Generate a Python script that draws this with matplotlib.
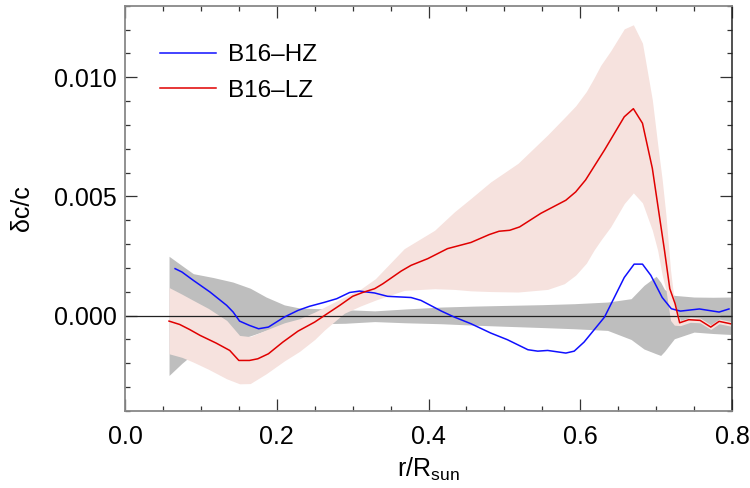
import matplotlib

matplotlib.use('Agg')
import numpy as np
import matplotlib.pyplot as plt

plt.rcParams['font.family'] = ['Liberation Sans', 'DejaVu Sans']
plt.rcParams['mathtext.fontset'] = 'custom'
plt.rcParams['mathtext.rm'] = 'Liberation Sans'

# B16-HZ line
hz_r = [0.066, 0.075, 0.090, 0.112, 0.134, 0.1425, 0.151, 0.164, 0.176, 0.189,
        0.210, 0.228, 0.243, 0.263, 0.279, 0.296, 0.309, 0.329, 0.346, 0.377,
        0.390, 0.417, 0.434, 0.456, 0.482, 0.504, 0.531, 0.544, 0.557, 0.581,
        0.592, 0.605, 0.632, 0.658, 0.671, 0.682, 0.693, 0.708, 0.720, 0.732,
        0.757, 0.783, 0.796]
hz_dc = [0.00197, 0.00183, 0.00148, 0.00099, 0.00043, 0.00015, -0.00023, -0.00041, -0.00055, -0.00048,
         -0.00006, 0.00022, 0.00039, 0.00056, 0.00071, 0.00097, 0.00103, 0.00095, 0.00081, 0.00076,
         0.00064, 0.00019, -0.00006, -0.00034, -0.00073, -0.00101, -0.00143, -0.00149, -0.00146, -0.00157,
         -0.00149, -0.00111, -0.00006, 0.00160, 0.00216, 0.00216, 0.00169, 0.00076, 0.00029, 0.00019,
         0.00028, 0.00015, 0.00028]

# B16-LZ line
lz_r = [0.058, 0.072, 0.085, 0.099, 0.120, 0.138, 0.150, 0.164, 0.175, 0.189,
        0.208, 0.228, 0.250, 0.265, 0.283, 0.300, 0.313, 0.329, 0.340, 0.364,
        0.377, 0.399, 0.425, 0.456, 0.480, 0.493, 0.507, 0.520, 0.548, 0.581,
        0.594, 0.607, 0.632, 0.658, 0.670, 0.682, 0.695, 0.711, 0.718, 0.725,
        0.731, 0.743, 0.758, 0.772, 0.783, 0.798]
lz_dc = [-0.00023, -0.00037, -0.00058, -0.00083, -0.00115, -0.00146, -0.00188, -0.00188, -0.00181, -0.00160,
         -0.00111, -0.00065, -0.00027, 0.00005, 0.00043, 0.00081, 0.00097, 0.00113, 0.00134, 0.00187,
         0.00211, 0.00239, 0.00281, 0.00307, 0.00340, 0.00354, 0.00358, 0.00372, 0.00429, 0.00484,
         0.00519, 0.00569, 0.00695, 0.00834, 0.00868, 0.00807, 0.00618, 0.00274, 0.00113, 0.00050,
         -0.00030, -0.00017, -0.00020, -0.00048, -0.00024, -0.00034]

# LZ error band (pink)
band_r = [0.058, 0.075, 0.090, 0.110, 0.134, 0.151, 0.165, 0.186, 0.210, 0.230,
          0.250, 0.263, 0.289, 0.310, 0.330, 0.368, 0.408, 0.434, 0.456, 0.482,
          0.518, 0.557, 0.579, 0.594, 0.608, 0.618, 0.627, 0.640, 0.658, 0.670,
          0.682, 0.695, 0.702, 0.708, 0.713, 0.719, 0.724, 0.732, 0.745, 0.758,
          0.772, 0.783, 0.798]
band_hi = [0.00118, 0.00090, 0.00064, 0.00030, -0.00020, -0.00083, -0.00088, -0.00060, -0.00030, -0.00013,
           0.00015, 0.00036, 0.00078, 0.00110, 0.00155, 0.00281, 0.00358, 0.00435, 0.00492, 0.00561,
           0.00639, 0.00758, 0.00830, 0.00880, 0.00940, 0.00996, 0.01050, 0.01110, 0.01203, 0.01220,
           0.01143, 0.00905, 0.00720, 0.00570, 0.00420, 0.00190, 0.00060, -0.00020, -0.00006, -0.00010,
           -0.00038, -0.00014, -0.00024]
band_lo = [-0.00160, -0.00175, -0.00195, -0.00225, -0.00265, -0.00286, -0.00285, -0.00244, -0.00190, -0.00150,
           -0.00100, -0.00060, 0.00010, 0.00040, 0.00065, 0.00106, 0.00113, 0.00110, 0.00104, 0.00101,
           0.00099, 0.00110, 0.00134, 0.00170, 0.00220, 0.00274, 0.00316, 0.00372, 0.00470, 0.00515,
           0.00473, 0.00358, 0.00274, 0.00170, 0.00106, -0.00020, -0.00040, -0.00042, -0.00028, -0.00030,
           -0.00058, -0.00034, -0.00044]

# gray band around zero
err_r = [0.058, 0.075, 0.090, 0.116, 0.142, 0.165, 0.186, 0.210, 0.230, 0.257,
         0.290, 0.329, 0.370, 0.417, 0.460, 0.504, 0.550, 0.592, 0.636, 0.667,
         0.684, 0.700, 0.706, 0.711, 0.724, 0.750, 0.775, 0.798]
err_hi = [0.00249, 0.00210, 0.00176, 0.00160, 0.00141, 0.00115, 0.00078, 0.00045, 0.00032, 0.00029,
          0.00025, 0.00020, 0.00028, 0.00036, 0.00040, 0.00043, 0.00046, 0.00050, 0.00057, 0.00071,
          0.00127, 0.00165, 0.00140, 0.00110, 0.00085, 0.00078, 0.00077, 0.00078]
err_lo = [-0.00251, -0.00200, -0.00160, -0.00132, -0.00105, -0.00085, -0.00062, -0.00045, -0.00034, -0.00034,
          -0.00032, -0.00025, -0.00030, -0.00034, -0.00040, -0.00045, -0.00050, -0.00055, -0.00062, -0.00100,
          -0.00140, -0.00160, -0.00167, -0.00150, -0.00097, -0.00069, -0.00075, -0.00079]

fig = plt.figure(figsize=(7.5, 4.88), dpi=100)
ax = fig.add_axes([0.1667, 0.1578, 0.8093, 0.8305])

ax.fill_between(err_r, err_lo, err_hi, color='#bebebe', lw=0)
ax.fill_between(band_r, band_lo, band_hi, color='#f6e2de', lw=0)
ax.axhline(0, color='#222222', lw=0.9)
ax.plot(hz_r, hz_dc, color='#1010ff', lw=1.1, label='B16\u2013HZ')
ax.plot(lz_r, lz_dc, color='#e00000', lw=1.1, label='B16\u2013LZ')

ax.set_xlim(0, 0.8)
ax.set_ylim(-0.004, 0.013)
ax.set_xticks(np.arange(0, 0.81, 0.2))
ax.set_xticks(np.arange(0, 0.81, 0.05), minor=True)
ax.set_yticks([0.0, 0.005, 0.010])
ax.set_yticks(np.arange(-0.004, 0.0131, 0.001), minor=True)
ax.set_xticklabels(['0.0', '0.2', '0.4', '0.6', '0.8'])
ax.set_yticklabels(['0.000', '0.005', '0.010'])

ax.tick_params(which='both', direction='in', top=True, right=True,
               labelsize=18, width=0.9, color='#333333')
ax.tick_params(which='major', length=8.5, pad=10)
ax.tick_params(which='minor', length=3.8)
ax.tick_params(axis='y', which='major', pad=6)

for side in ['left', 'bottom', 'top']:
    ax.spines[side].set_color('#888888')
    ax.spines[side].set_linewidth(1.3)
ax.spines['right'].set_color('#222222')
ax.spines['right'].set_linewidth(1.1)

ax.set_xlabel(r'r/R$_{\rm sun}$', fontsize=18)
ax.xaxis.set_label_coords(0.5, -0.11)
ax.set_ylabel('\u03b4c/c', fontsize=18)
ax.yaxis.set_label_coords(-0.15, 0.5)

ax.legend(loc='upper left', bbox_to_anchor=(0.058, 0.905), frameon=False,
          fontsize=17.5, handlelength=2.3, handletextpad=0.5, labelspacing=0.55,
          borderpad=0, borderaxespad=0)

plt.savefig('out.png', dpi=100)
